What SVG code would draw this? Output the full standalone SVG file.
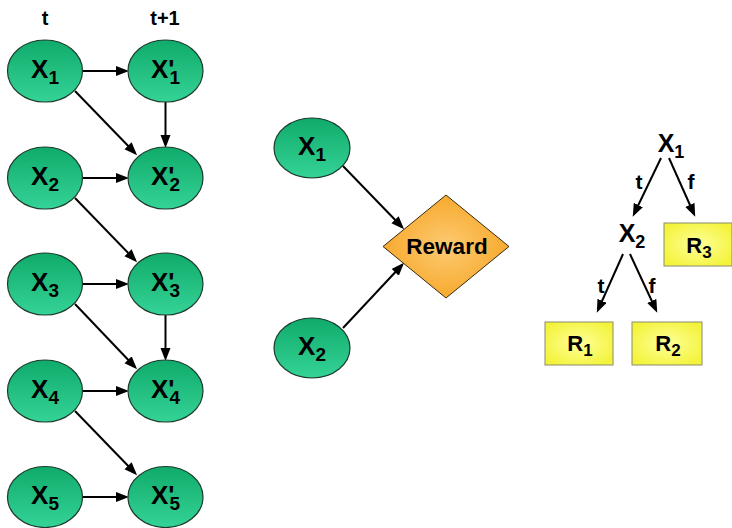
<svg xmlns="http://www.w3.org/2000/svg" width="732" height="528" viewBox="0 0 732 528">
  <defs>
    <linearGradient id="green" x1="0" y1="0" x2="0" y2="1">
      <stop offset="0" stop-color="#10ab6b"/>
      <stop offset="1" stop-color="#34d396"/>
    </linearGradient>
    <radialGradient id="orange" cx="0.5" cy="0.5" r="0.5">
      <stop offset="0" stop-color="#fdca72"/>
      <stop offset="1" stop-color="#f7aa2e"/>
    </radialGradient>
    <radialGradient id="yellow" cx="0.5" cy="0.5" r="0.6">
      <stop offset="0" stop-color="#ffff9a"/>
      <stop offset="1" stop-color="#f3f33a"/>
    </radialGradient>
    <marker id="arrow" markerUnits="userSpaceOnUse" markerWidth="14" markerHeight="12" viewBox="0 0 14 12" refX="10" refY="5" orient="auto">
      <path d="M0,0 L13,5 L0,10 Z" fill="#000"/>
    </marker>
    <style>
      .node { fill: url(#green); stroke: #1d3b2c; stroke-width: 1.2; }
      .lbl { font-family: "Liberation Sans", Arial, sans-serif; font-weight: bold; fill: #000; text-anchor: middle; }
      .big { font-size: 26px; }
      .sub { font-size: 19px; }
      .tree { font-size: 25px; }
      .tsub { font-size: 18px; }
      .branch { font-size: 21px; }
      .rl { font-size: 22px; }
      .rsub { font-size: 17px; }
      .head { font-size: 20px; }
      .edge { stroke: #000; stroke-width: 2; fill: none; marker-end: url(#arrow); }
      .leaf { fill: url(#yellow); stroke: #8a8a70; stroke-width: 1; }
    </style>
  </defs>

  <!-- time slice headers -->
  <text class="lbl head" x="45" y="25">t</text>
  <text class="lbl head" x="165" y="25">t+1</text>

  <!-- connectors -->
  <g id="connectors">
    <!-- two-slice network -->
    <line class="edge" x1="82" y1="71" x2="126" y2="71"/>
    <line class="edge" x1="75" y1="91" x2="135" y2="153"/>
    <line class="edge" x1="165.5" y1="102" x2="165.5" y2="145"/>
    <line class="edge" x1="82" y1="178" x2="126" y2="178"/>
    <line class="edge" x1="75" y1="198" x2="135" y2="260"/>
    <line class="edge" x1="82" y1="284" x2="126" y2="284"/>
    <line class="edge" x1="75" y1="304" x2="135" y2="367"/>
    <line class="edge" x1="165.5" y1="315" x2="165.5" y2="358"/>
    <line class="edge" x1="82" y1="391" x2="126" y2="391"/>
    <line class="edge" x1="75" y1="411" x2="135" y2="473"/>
    <line class="edge" x1="82" y1="497" x2="126" y2="497"/>
    <!-- reward inputs -->
    <line class="edge" x1="343" y1="166" x2="402" y2="227"/>
    <line class="edge" x1="343" y1="328" x2="402" y2="265"/>
    <!-- decision tree -->
    <line class="edge" x1="661" y1="158" x2="634" y2="214"/>
    <line class="edge" x1="669" y1="158" x2="694" y2="214"/>
    <line class="edge" x1="623" y1="254" x2="598" y2="310"/>
    <line class="edge" x1="630" y1="254" x2="656" y2="310"/>
  </g>

  <!-- slice t -->
  <g id="x1">
    <ellipse class="node" cx="45" cy="71" rx="37.5" ry="31"/>
    <text class="lbl big" x="45" y="78">X<tspan class="sub" dy="6">1</tspan></text>
  </g>
  <g id="x2">
    <ellipse class="node" cx="45" cy="178" rx="37.5" ry="31"/>
    <text class="lbl big" x="45" y="185">X<tspan class="sub" dy="6">2</tspan></text>
  </g>
  <g id="x3">
    <ellipse class="node" cx="45" cy="284" rx="37.5" ry="31"/>
    <text class="lbl big" x="45" y="291">X<tspan class="sub" dy="6">3</tspan></text>
  </g>
  <g id="x4">
    <ellipse class="node" cx="45" cy="391" rx="37.5" ry="31"/>
    <text class="lbl big" x="45" y="398">X<tspan class="sub" dy="6">4</tspan></text>
  </g>
  <g id="x5">
    <ellipse class="node" cx="45" cy="497" rx="37.5" ry="30.5"/>
    <text class="lbl big" x="45" y="504">X<tspan class="sub" dy="6">5</tspan></text>
  </g>

  <!-- slice t+1 -->
  <g id="x1p">
    <ellipse class="node" cx="165.5" cy="71" rx="37.5" ry="31"/>
    <text class="lbl big" x="165.5" y="78">X'<tspan class="sub" dx="-5" dy="6">1</tspan></text>
  </g>
  <g id="x2p">
    <ellipse class="node" cx="165.5" cy="178" rx="37.5" ry="31"/>
    <text class="lbl big" x="165.5" y="185">X'<tspan class="sub" dx="-5" dy="6">2</tspan></text>
  </g>
  <g id="x3p">
    <ellipse class="node" cx="165.5" cy="284" rx="37.5" ry="31"/>
    <text class="lbl big" x="165.5" y="291">X'<tspan class="sub" dx="-5" dy="6">3</tspan></text>
  </g>
  <g id="x4p">
    <ellipse class="node" cx="165.5" cy="391" rx="37.5" ry="31"/>
    <text class="lbl big" x="165.5" y="398">X'<tspan class="sub" dx="-5" dy="6">4</tspan></text>
  </g>
  <g id="x5p">
    <ellipse class="node" cx="165.5" cy="497" rx="37.5" ry="30.5"/>
    <text class="lbl big" x="165.5" y="504">X'<tspan class="sub" dx="-5" dy="6">5</tspan></text>
  </g>

  <!-- reward model -->
  <g id="rx1">
    <ellipse class="node" cx="312" cy="148" rx="38" ry="30"/>
    <text class="lbl big" x="312" y="155">X<tspan class="sub" dy="6">1</tspan></text>
  </g>
  <g id="rx2">
    <ellipse class="node" cx="312" cy="348" rx="38" ry="30"/>
    <text class="lbl big" x="312" y="355">X<tspan class="sub" dy="6">2</tspan></text>
  </g>
  <g id="reward">
    <polygon points="446,195 509,246.5 446,298 383,246.5" fill="url(#orange)" stroke="#3a2a10" stroke-width="1"/>
    <text class="lbl" x="447" y="254" font-size="22.5">Reward</text>
  </g>

  <!-- reward decision tree -->
  <g id="tx1">
    <text class="lbl tree" x="671" y="152">X<tspan class="tsub" dy="6">1</tspan></text>
  </g>
  <g id="tx2">
    <text class="lbl tree" x="632" y="242">X<tspan class="tsub" dy="6">2</tspan></text>
  </g>
  <g id="tree-labels">
    <text class="lbl branch" x="639" y="189">t</text>
    <text class="lbl branch" x="691" y="189">f</text>
    <text class="lbl branch" x="601" y="293">t</text>
    <text class="lbl branch" x="652" y="293">f</text>
  </g>
  <g id="r1">
    <rect class="leaf" x="545" y="322" width="68" height="43"/>
    <text class="lbl rl" x="580" y="351">R<tspan class="rsub" dy="5">1</tspan></text>
  </g>
  <g id="r2">
    <rect class="leaf" x="632" y="322" width="70" height="43"/>
    <text class="lbl rl" x="668" y="351">R<tspan class="rsub" dy="5">2</tspan></text>
  </g>
  <g id="r3">
    <rect class="leaf" x="664" y="223" width="68" height="43"/>
    <text class="lbl rl" x="699" y="253">R<tspan class="rsub" dy="5">3</tspan></text>
  </g>
</svg>
